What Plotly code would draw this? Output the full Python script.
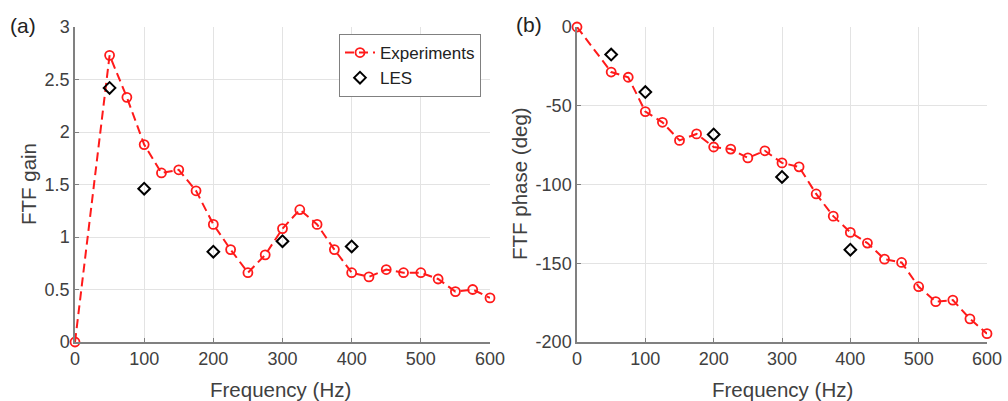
import plotly.graph_objects as go

freq_exp = [0, 50, 75, 100, 125, 150, 175, 200, 225, 250, 275, 300, 325, 350,
            375, 400, 425, 450, 475, 500, 525, 550, 575, 600]
gain_exp = [0.0, 2.73, 2.33, 1.88, 1.61, 1.64, 1.44, 1.12, 0.88, 0.66, 0.83, 1.08,
            1.26, 1.12, 0.88, 0.66, 0.62, 0.69, 0.66, 0.66, 0.60, 0.48, 0.50, 0.42]
phase_exp = [0.0, -28.6, -31.9, -53.7, -60.5, -72.0, -67.9, -76.2, -77.5, -83.1,
             -78.6, -86.3, -88.8, -106.0, -120.1, -130.4, -137.2, -147.4, -149.5,
             -164.9, -174.4, -173.4, -185.3, -194.7]
freq_les = [50, 100, 200, 300, 400]
gain_les = [2.42, 1.46, 0.86, 0.96, 0.91]
phase_les = [-17.5, -41.3, -68.2, -95.2, -141.4]

x_ticks = [0, 100, 200, 300, 400, 500, 600]
gain_ticks = [0, 0.5, 1, 1.5, 2, 2.5, 3]
gain_ticktext = ["0", "0.5", "1", "1.5", "2", "2.5", "3"]
phase_ticks = [0, -50, -100, -150, -200]
phase_ticktext = ["0", "-50", "-100", "-150", "-200"]

FONT = "Liberation Sans"
TXT = "#404040"
RED = "#ff1a1a"

fig = go.Figure()

exp_line = dict(color=RED, width=2, dash="9px,5px")
exp_marker = dict(symbol="circle-open", size=9, color=RED, line=dict(width=1.8, color=RED))
les_marker = dict(symbol="diamond-open", size=9, color="black", line=dict(width=2, color="black"))

fig.add_trace(go.Scatter(x=freq_exp, y=gain_exp, mode="lines+markers", name="Experiments",
                         line=exp_line, marker=exp_marker, cliponaxis=False,
                         xaxis="x", yaxis="y"))
fig.add_trace(go.Scatter(x=freq_les, y=gain_les, mode="markers", name="LES",
                         marker=les_marker, cliponaxis=False, xaxis="x", yaxis="y"))
fig.add_trace(go.Scatter(x=freq_exp, y=phase_exp, mode="lines+markers", name="Experiments",
                         line=exp_line, marker=exp_marker, cliponaxis=False, showlegend=False,
                         xaxis="x2", yaxis="y2"))
fig.add_trace(go.Scatter(x=freq_les, y=phase_les, mode="markers", name="LES",
                         marker=les_marker, cliponaxis=False, showlegend=False,
                         xaxis="x2", yaxis="y2"))

W, H = 1008, 401
ydom = [1 - 342 / H, 1 - 27 / H]

common_ax = dict(showgrid=True, gridcolor="#e3e3e3", gridwidth=1, zeroline=False,
                 showline=True, linecolor="#808080", linewidth=1.5,
                 ticks="inside", ticklen=4, tickcolor="#808080", automargin=False,
                 tickfont=dict(family=FONT, size=18, color=TXT))


def label(text, x, y, size=20.5, color=TXT, angle=0):
    return dict(text=text, x=x / W, y=1 - y / H, xref="paper", yref="paper",
                xanchor="center", yanchor="middle", textangle=angle,
                showarrow=False, font=dict(family=FONT, size=size, color=color))


fig.update_layout(
    width=W, height=H,
    margin=dict(l=0, r=0, t=0, b=0, autoexpand=False),
    paper_bgcolor="white", plot_bgcolor="white",
    font=dict(family=FONT, color=TXT),
    xaxis=dict(domain=[75 / W, 490 / W], range=[0, 600], tickvals=x_ticks,
               anchor="y", **common_ax),
    yaxis=dict(domain=ydom, range=[0, 3], tickvals=gain_ticks, ticktext=gain_ticktext,
               anchor="x", **common_ax),
    xaxis2=dict(domain=[577 / W, 987 / W], range=[0, 600], tickvals=x_ticks,
                anchor="y2", **common_ax),
    yaxis2=dict(domain=ydom, range=[-200, 0], tickvals=phase_ticks, ticktext=phase_ticktext,
                anchor="x2", **common_ax),
    legend=dict(x=481 / W, y=1 - 34 / H, xanchor="right", yanchor="top",
                bgcolor="white", bordercolor="#808080", borderwidth=1,
                font=dict(family=FONT, size=17, color="#222222"),
                tracegroupgap=0, itemwidth=30),
    annotations=[
        label("(a)", 23, 25, size=21, color="#222222"),
        label("(b)", 529, 24, size=21, color="#222222"),
        label("Frequency (Hz)", 280, 389),
        label("Frequency (Hz)", 782, 389),
        label("FTF gain", 28, 184, angle=-90),
        label("FTF phase (deg)", 519, 184, angle=-90),
    ],
)

fig.write_html("out.html")
